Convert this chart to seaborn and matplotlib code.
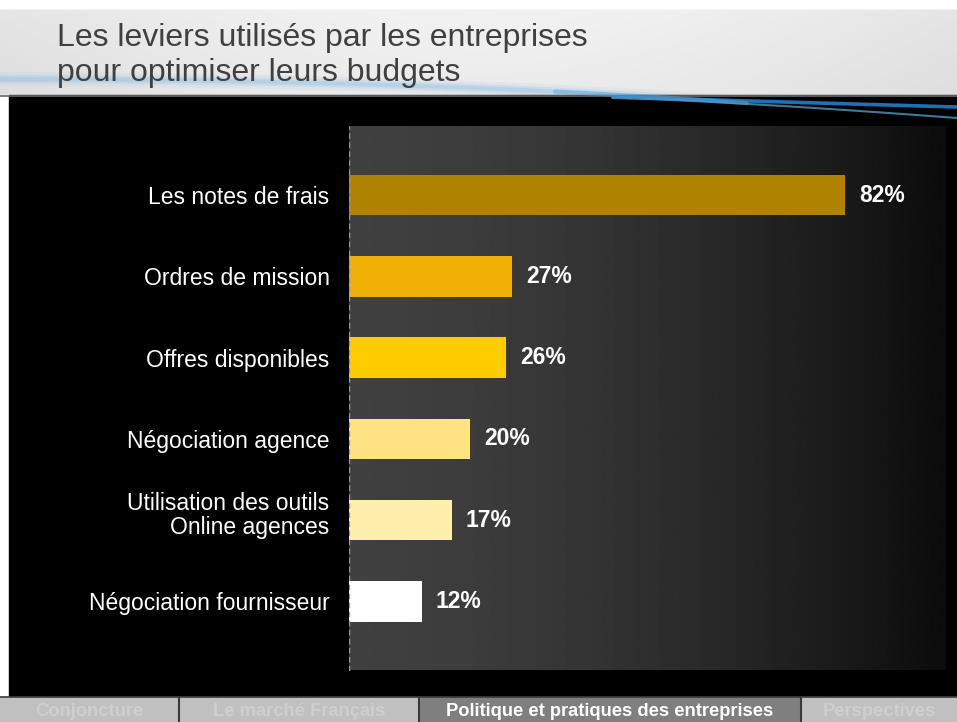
import numpy as np
import matplotlib
matplotlib.use("Agg")
import matplotlib.pyplot as plt
from matplotlib.patches import Rectangle
from matplotlib.transforms import ScaledTranslation
import seaborn as sns

# Data
categories = [
    "Les notes de frais",
    "Ordres de mission",
    "Offres disponibles",
    "Négociation agence",
    "Utilisation des outils\nOnline agences",
    "Négociation fournisseur",
]
values = [82, 27, 26, 20, 17, 12]
bar_colors = ["#b08402", "#f0b005", "#ffcc00", "#ffe383", "#ffefac", "#ffffff"]

title_lines = ["Les leviers utilisés par les entreprises", "pour optimiser leurs budgets"]
tabs = ["Conjoncture", "Le marché Français", "Politique et pratiques des entreprises", "Perspectives"]
active_tab = 2

sns.set_theme(style="white")
plt.rcParams["font.family"] = ["Liberation Sans", "DejaVu Sans"]

W, H = 957, 722
fig = plt.figure(figsize=(W / 100, H / 100), dpi=100)
fig.patch.set_facecolor("white")

# ---- page decoration in pixel coordinates ----
bg = fig.add_axes([0, 0, 1, 1], zorder=-5)
bg.set_xlim(0, W)
bg.set_ylim(H, 0)
bg.axis("off")

# header band with soft gradient
hx = np.linspace(0, 1, 200)
hy = np.linspace(0, 1, 60)
HX, HY = np.meshgrid(hx, hy)
header = 0.90 + 0.05 * np.sin(np.pi * HX) - 0.03 * HY
header[hy < 0.09, :] = 1.0
bg.imshow(header, extent=[0, W, 95, 0], cmap="gray", vmin=0, vmax=1,
          aspect="auto", zorder=0, interpolation="bilinear")

# black panel and white margin
bg.add_patch(Rectangle((0, 95), W, 602, color="white", zorder=1))
bg.add_patch(Rectangle((9, 95), W - 9, 602, color="black", zorder=2))
bg.plot([0, W], [95.5, 95.5], color="#6a6a6a", lw=1.2, zorder=3)

# blue swoosh
t = np.linspace(0, 1, 300)
sx = t * W
sy = 79 + 4 * t + 38 * t ** 2.4
for lw, a in [(10, 0.12), (6, 0.22), (3, 0.35)]:
    bg.plot(sx, sy, color="#8fbfe4", lw=lw, alpha=a, zorder=1.5, solid_capstyle="butt")
t2 = np.linspace(0.64, 1, 200)
bg.plot(t2 * W, 96 + 10 * (t2 - 0.64) / 0.36 + 1, color="#1f78c0", lw=2.6, alpha=0.95, zorder=3)
bg.plot(t2 * W, 98 + 20 * ((t2 - 0.64) / 0.36) ** 1.3, color="#4c8fb0", lw=1.5, alpha=0.85, zorder=3)
t3 = np.linspace(0.58, 0.78, 100)
bg.plot(t3 * W, 79 + 4 * t3 + 38 * t3 ** 2.4, color="#5aa7dc", lw=3, alpha=0.5, zorder=3)

# title
for i, line in enumerate(title_lines):
    bg.text(57, 46 + 35 * i, line, fontsize=23, color="#404040",
            va="baseline", ha="left", zorder=4)

# bottom navigation tabs
edges = [0, 179, 419, 801, W]
for i, name in enumerate(tabs):
    x0, x1 = edges[i], edges[i + 1]
    active = i == active_tab
    bg.add_patch(Rectangle((x0, 697), x1 - x0, 25,
                           color="#7f7f7f" if active else "#c0c0c0", zorder=4))
    bg.text((x0 + x1) / 2, 711, name, ha="center", va="center", fontsize=13.2,
            fontweight="bold", color="white" if active else "#cfcfcf", zorder=5)
for x in edges[1:-1]:
    bg.plot([x, x], [697, H], color="#3a3a3a", lw=1.5, zorder=6)
bg.plot([0, W], [697, 697], color="#3a3a3a", lw=1.2, zorder=6)

# ---- bar chart ----
left, right, top, bottom = 349, 945.5, 126, 670.5
ax = fig.add_axes([left / W, 1 - bottom / H, (right - left) / W, (bottom - top) / H])
xmax = (right - left) / 6.05
ylo, yhi = 5.85, -0.85

# plot-area gradient, lighter on the left
g = np.linspace(0, 1, 400)
shade = (64 - 52 * g ** 1.6) / 255.0
ax.imshow(shade[np.newaxis, :], extent=[0, xmax, ylo, yhi], cmap="gray",
          vmin=0, vmax=1, aspect="auto", zorder=0, interpolation="bilinear")

sns.barplot(x=values, y=categories, hue=categories, palette=bar_colors,
            legend=False, width=0.5, saturation=1, orient="h", ax=ax, zorder=2,
            linewidth=0)

ax.set_xlim(0, xmax)
ax.set_ylim(ylo, yhi)
ax.set_facecolor("none")
for s in ax.spines.values():
    s.set_visible(False)
ax.axvline(0, color="#9a9a9a", lw=1, ls=(0, (4, 2.5)), zorder=3)
ax.set_xticks([])
ax.set_xlabel("")
ax.set_ylabel("")
ax.tick_params(axis="y", length=0, pad=14, labelsize=16.5, labelcolor="white")

fig.canvas.draw()
for lab in ax.get_yticklabels():
    lab.set_linespacing(1.05)
    if "\n" in lab.get_text():
        # two-line label sits slightly above its bar
        lab.set_transform(lab.get_transform() + ScaledTranslation(0, 8 / 100, fig.dpi_scale_trans))

for i, v in enumerate(values):
    ax.text(v + 2.3, i, f"{v}%", va="center", ha="left", fontsize=16.5,
            fontweight="bold", color="white", zorder=4)

fig.savefig("out.png", dpi=100, facecolor=fig.get_facecolor())
